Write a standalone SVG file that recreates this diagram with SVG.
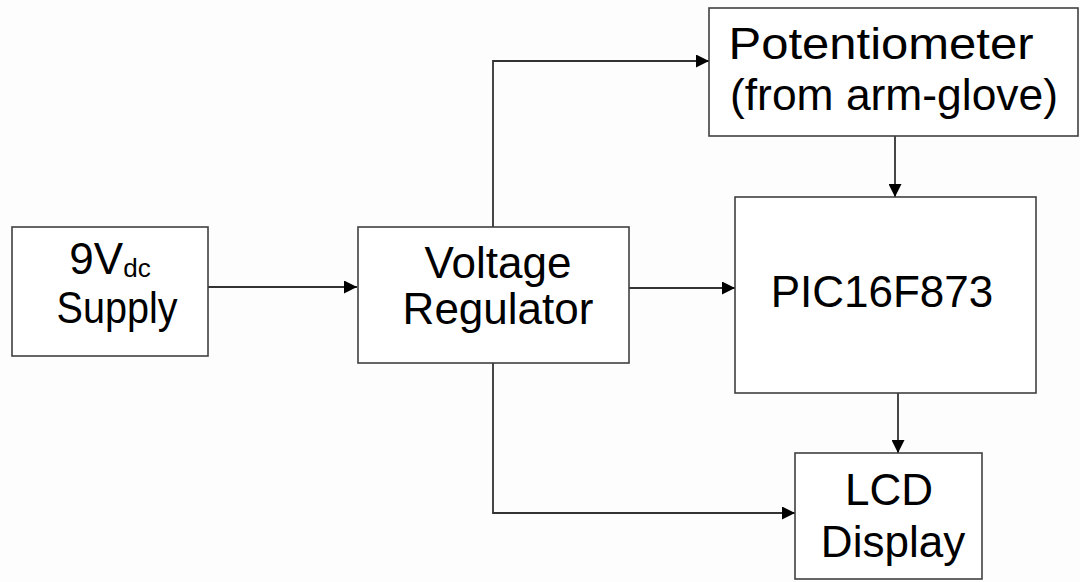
<svg xmlns="http://www.w3.org/2000/svg" width="1080" height="582" viewBox="0 0 1080 582">
<style>
.box{fill:#fff;stroke:#404040;stroke-width:1.6}
.t{font-family:"Liberation Sans",Arial,sans-serif;font-size:44px;fill:#000;text-anchor:middle}
.c{fill:none;stroke:#333;stroke-width:1.8}
</style>
<defs>
<marker id="ah" markerWidth="13" markerHeight="13" refX="13" refY="6.5" orient="auto" markerUnits="userSpaceOnUse">
<path d="M0,0 L13,6.5 L0,13 Z" fill="#000"/>
</marker>
</defs>
<rect width="1080" height="582" fill="#fdfdfd"/>
<g id="connectors">
<path class="c" d="M208,287 H357" marker-end="url(#ah)"/>
<path class="c" d="M493,227 V61 H709" marker-end="url(#ah)"/>
<path class="c" d="M629,288 H735" marker-end="url(#ah)"/>
<path class="c" d="M895,136 V197" marker-end="url(#ah)"/>
<path class="c" d="M898,393 V453" marker-end="url(#ah)"/>
<path class="c" d="M493,363 V513 H795" marker-end="url(#ah)"/>
</g>
<g id="supply">
<rect class="box" x="12" y="227" width="196" height="129"/>
<text class="t" x="110" y="274">9V<tspan font-size="26" dy="3">dc</tspan></text>
<text class="t" x="117" y="323" textLength="121" lengthAdjust="spacingAndGlyphs">Supply</text>
</g>
<g id="regulator">
<rect class="box" x="358" y="227" width="271" height="136"/>
<text class="t" x="498" y="278">Voltage</text>
<text class="t" x="498" y="324">Regulator</text>
</g>
<g id="potentiometer">
<rect class="box" x="709" y="8" width="369" height="128"/>
<text class="t" x="881" y="59" textLength="305" lengthAdjust="spacingAndGlyphs">Potentiometer</text>
<text class="t" x="894" y="110" textLength="328" lengthAdjust="spacingAndGlyphs">(from arm-glove)</text>
</g>
<g id="pic">
<rect class="box" x="735" y="197" width="301" height="196"/>
<text class="t" x="882" y="307">PIC16F873</text>
</g>
<g id="lcd">
<rect class="box" x="795" y="453" width="187" height="126"/>
<text class="t" x="889" y="505">LCD</text>
<text class="t" x="893" y="557">Display</text>
</g>
</svg>
